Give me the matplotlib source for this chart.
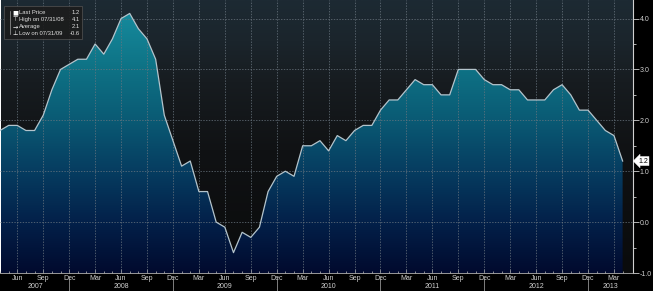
import numpy as np
import pandas as pd
import matplotlib
matplotlib.use('Agg')
import matplotlib.pyplot as plt
from matplotlib.colors import LinearSegmentedColormap
from matplotlib.transforms import blended_transform_factory

# Dados mensais (fim de mês), abr/2007 a abr/2013
datas = pd.date_range('2007-04-30', periods=73, freq='ME')
valores = [1.8, 1.9, 1.9, 1.8, 1.8, 2.1, 2.6, 3.0, 3.1,
           3.2, 3.2, 3.5, 3.3, 3.6, 4.0, 4.1, 3.8, 3.6, 3.2, 2.1, 1.6,
           1.1, 1.2, 0.6, 0.6, 0.0, -0.1, -0.6, -0.2, -0.3, -0.1, 0.6, 0.9,
           1.0, 0.9, 1.5, 1.5, 1.6, 1.4, 1.7, 1.6, 1.8, 1.9, 1.9, 2.2,
           2.4, 2.4, 2.6, 2.8, 2.7, 2.7, 2.5, 2.5, 3.0, 3.0, 3.0, 2.8,
           2.7, 2.7, 2.6, 2.6, 2.4, 2.4, 2.4, 2.6, 2.7, 2.5, 2.2, 2.2,
           2.0, 1.8, 1.7, 1.2]
meses_rotulo = {3: 'Mar', 6: 'Jun', 9: 'Sep', 12: 'Dec'}
legenda_nomes = ['Last Price', 'High on 07/31/08', 'Average', 'Low on 07/31/09']
legenda_valores = ['1.2', '4.1', '2.1', '-0.6']
y_ticks = [-1.0, 0.0, 1.0, 2.0, 3.0, 4.0]

x = np.arange(len(valores))
y = np.array(valores)
fonte = ['Liberation Sans Narrow', 'Liberation Sans', 'DejaVu Sans']

fig = plt.figure(figsize=(6.53, 2.91), dpi=100, facecolor='black')
ax = fig.add_axes([0.0, 18 / 291, 633 / 653, 273 / 291])

x0, x1 = 0.15, 73.2
y0, y1 = -1.0, 4.364
ax.set_xlim(x0, x1)
ax.set_ylim(y0, y1)

# fundo em degradê
bg_cmap = LinearSegmentedColormap.from_list('bg', [
    (0.0, '#0a0b0c'), (0.45, '#101214'), (0.7, '#171c20'), (0.85, '#1b252c'), (1.0, '#1d2a33')])
grad = np.linspace(0, 1, 256).reshape(-1, 1)
ax.imshow(grad, extent=[x0, x1, y0, y1], origin='lower', aspect='auto',
          cmap=bg_cmap, zorder=0)

# área preenchida em degradê
fill_cmap = LinearSegmentedColormap.from_list('fill', [
    (0.0, '#010a2e'), (0.19, '#03214a'), (0.37, '#063c60'),
    (0.56, '#0a5a74'), (0.75, '#0e7285'), (1.0, '#1890a2')])
poly = ax.fill_between(x, y, y0, facecolor='none', edgecolor='none')
img = ax.imshow(grad, extent=[x0, x1, y0, y1], origin='lower', aspect='auto',
                cmap=fill_cmap, zorder=1)
img.set_clip_path(poly.get_paths()[0], transform=ax.transData)

ax.plot(x, y, color='#b4c4cc', lw=0.9, zorder=4)

# grades
tick_pos = [i for i, d in enumerate(datas) if d.month in meses_rotulo]
tick_lab = [meses_rotulo[datas[i].month] for i in tick_pos]
for p in tick_pos:
    ax.axvline(p, color='#6a7680', lw=0.5, ls=(0, (2, 2)), zorder=3)
for v in y_ticks:
    ax.axhline(v, color='#6a7680', lw=0.5, ls=(0, (2, 2)), zorder=3)

# eixos
for s in ['top', 'left']:
    ax.spines[s].set_visible(False)
ax.spines['right'].set_color('#d0d0d0')
ax.spines['right'].set_linewidth(0.8)
ax.spines['bottom'].set_color('#b0b0b0')
ax.spines['bottom'].set_linewidth(0.6)
ax.spines['bottom'].set_linestyle((0, (2, 1)))

ax.yaxis.tick_right()
ax.set_yticks(y_ticks)
ax.set_yticklabels([f'{v:.1f}' for v in y_ticks], fontsize=5, color='#d0d0d0',
                   family=fonte)
ax.set_yticks(np.arange(-0.5, 4.5, 1.0), minor=True)
ax.tick_params(axis='y', which='major', length=4, width=0.6, color='#d0d0d0', pad=1)
ax.tick_params(axis='y', which='minor', length=2, width=0.6, color='#d0d0d0')

ax.set_xticks(tick_pos)
ax.set_xticklabels(tick_lab, fontsize=5, color='#d0d0d0', family=fonte)
ax.set_xticks(x, minor=True)
ax.tick_params(axis='x', which='major', direction='in', length=3, width=0.5,
               color='#c0c0c0', pad=1.5)
ax.tick_params(axis='x', which='minor', direction='in', length=1.5, width=0.5,
               color='#c0c0c0')

# anos e separadores
tr = blended_transform_factory(ax.transData, ax.transAxes)
dez = [i for i, d in enumerate(datas) if d.month == 12]
limites = [x0] + dez + [x1]
for a, b in zip(limites[:-1], limites[1:]):
    ano = datas[0].year if a == x0 else datas[int(a) + 1].year
    ax.text((a + b) / 2, -0.048, str(ano), transform=tr, ha='center', va='center',
            fontsize=5, color='#d0d0d0', family=fonte)
for p in dez:
    ax.plot([p, p], [-0.015, -0.075], transform=tr, color='#b0b0b0', lw=0.5,
            clip_on=False)

# rótulo do último valor
ax.text(1.008, y[-1], f'{y[-1]:.1f}', transform=blended_transform_factory(ax.transAxes, ax.transData),
        ha='left', va='center', fontsize=5, color='black', family=fonte,
        bbox=dict(boxstyle='larrow,pad=0.15', fc='white', ec='white', lw=0.3),
        clip_on=False, zorder=6)

# legenda estilo terminal
lx0, ly0, lw_, lh_ = 4 / 653, 1 - 39 / 291, 78 / 653, 33 / 291
fig.patches.append(plt.Rectangle((lx0, ly0), lw_, lh_, transform=fig.transFigure,
                                 fc='#1c1c1c', ec='#505050', lw=0.6, alpha=0.9, zorder=10))
icones = ['\u25a0', '\u22a4', '\u2192', '\u22a5']
linhas_y = [12.7, 19.4, 26.3, 33.5]
for ic, nome, val, ly in zip(icones, legenda_nomes, legenda_valores, linhas_y):
    fy = 1 - ly / 291
    fig.text(15 / 653, fy, ic, ha='center', va='center', fontsize=4.5,
             color='white', family=['DejaVu Sans'], zorder=11)
    fig.text(19 / 653, fy, nome, ha='left', va='center', fontsize=4.2,
             color='#e0e0e0', family=fonte, zorder=11)
    fig.text(80 / 653, fy, val, ha='right', va='center', fontsize=4.2,
             color='#e0e0e0', family=fonte, zorder=11)
fig.lines.append(plt.Line2D([9.5 / 653, 9.5 / 653], [1 - 11 / 291, 1 - 34 / 291],
                            transform=fig.transFigure, color='#a0a0a0', lw=0.5, zorder=11))

plt.savefig('out.png', dpi=100, facecolor='black')
plt.close()
